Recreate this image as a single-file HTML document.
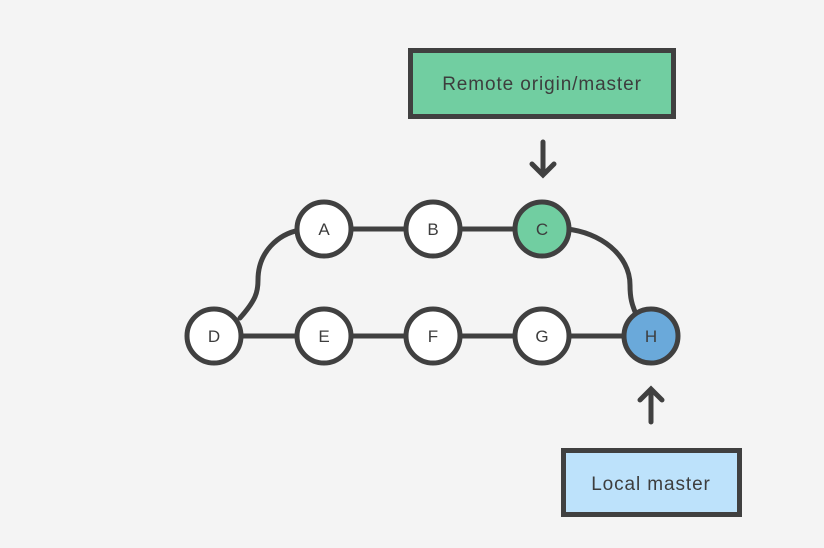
<!DOCTYPE html>
<html><head><meta charset="utf-8"><style>
html,body{margin:0;padding:0;background:#f4f4f4;}
svg{display:block;}
text{font-family:"Liberation Sans",sans-serif;fill:#3d3d3d;}
</style></head><body>
<svg width="824" height="548" viewBox="0 0 824 548">
<rect width="824" height="548" fill="#f4f4f4"/>
<g stroke="#404040" stroke-width="5" fill="none" stroke-linecap="round">
<line x1="214" y1="336" x2="651" y2="336"/>
<line x1="324" y1="229" x2="542" y2="229"/>
<path d="M240 318 C256 300 258 292 258 280 C258 252 278 234 300 230"/>
<path d="M566 229 C600 232 630 255 630 285 C630 298 632 305 636 314"/>
<path d="M543 142 L543 175 M532 164 L543 175 L554 164"/>
<path d="M651 422 L651 389 M640 400 L651 389 L662 400"/>
</g>
<g stroke="#404040" stroke-width="5">
<circle cx="214" cy="336" r="27" fill="#fff"/>
<circle cx="324" cy="336" r="27" fill="#fff"/>
<circle cx="433" cy="336" r="27" fill="#fff"/>
<circle cx="542" cy="336" r="27" fill="#fff"/>
<circle cx="651" cy="336" r="27" fill="#6aa9da"/>
<circle cx="324" cy="229" r="27" fill="#fff"/>
<circle cx="433" cy="229" r="27" fill="#fff"/>
<circle cx="542" cy="229" r="27" fill="#71cea1"/>
<rect x="410.5" y="50.5" width="263" height="66" fill="#71cea1"/>
<rect x="563.5" y="450.5" width="176" height="64" fill="#bde2fb"/>
</g>
<g font-size="17" text-anchor="middle">
<text x="214" y="342">D</text>
<text x="324" y="342">E</text>
<text x="433" y="342">F</text>
<text x="542" y="342">G</text>
<text x="651" y="342">H</text>
<text x="324" y="235">A</text>
<text x="433" y="235">B</text>
<text x="542" y="235">C</text>
</g>
<g font-size="19" text-anchor="middle" letter-spacing="0.9">
<text x="542" y="90">Remote origin/master</text>
<text x="651" y="490">Local master</text>
</g>
</svg>
</body></html>
